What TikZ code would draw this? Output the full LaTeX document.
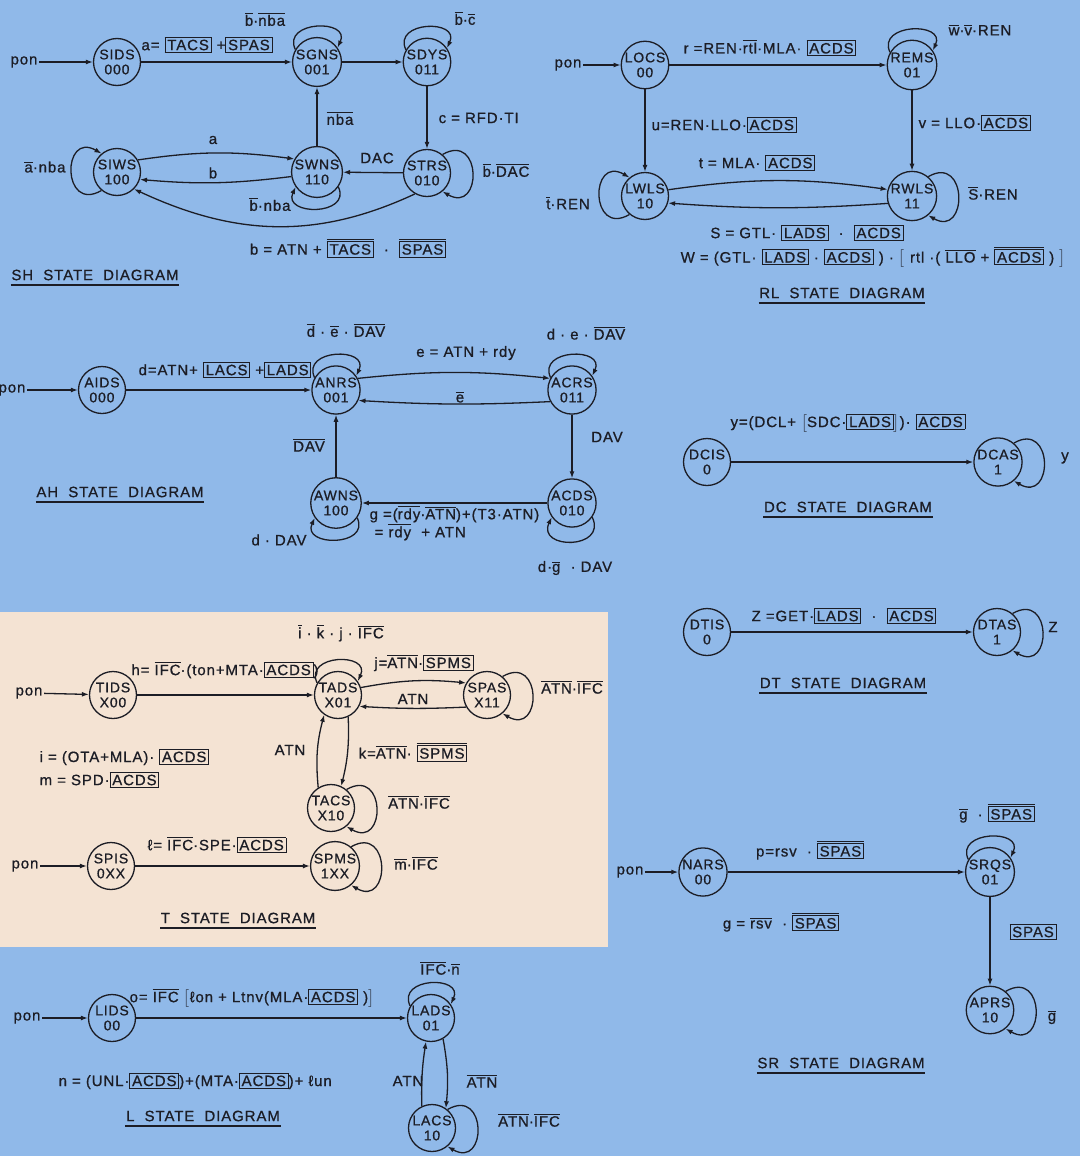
\documentclass[tikz,border=0pt]{standalone}
\usepackage{fontspec}
\setmainfont{Liberation Sans}[LetterSpace=6.0, FakeBold=0.8]
\usepackage{amsmath}
\usetikzlibrary{arrows.meta}
\definecolor{skyBg}{HTML}{90B9E9}
\definecolor{sandBg}{HTML}{F4E3D3}
\definecolor{inkDark}{HTML}{1C1D25}
\newcommand\ol[1]{\ensuremath{\overline{\mbox{#1}}}}
\newcommand\bx[1]{{\setlength\fboxsep{1.8pt}\setlength\fboxrule{0.9pt}\fbox{#1}}}
\newcommand\lblsize{\fontsize{15}{17}\selectfont}
\newcommand\stsize{\fontsize{14}{15}\selectfont}
\newcommand\ttlsize{\fontsize{15}{17}\selectfont}

\begin{document}
\begin{tikzpicture}[x=1pt, y=-1pt, line width=1.3pt, color=inkDark,
  state/.style={circle, draw, minimum size=47pt, inner sep=0pt, align=center, font=\stsize},
  lbl/.style={font=\lblsize, inner sep=1pt},
  ttl/.style={font=\ttlsize, inner xsep=0pt, inner ysep=4pt},
  uline/.style={line width=1.4pt},
  tr/.style={-{Latex[length=7pt,width=5pt]}}]
\useasboundingbox (0,0) rectangle (1080,1156);
\fill[skyBg] (0,0) rectangle (1080,1156);
\fill[sandBg] (0,612) rectangle (608,947);

\node[lbl] (ponsh) at (24,62) {pon};
\node[state] (sids) at (117,62) {SIDS\\000};
\node[state] (sgns) at (317,62) {SGNS\\001};
\node[state] (sdys) at (427,62) {SDYS\\011};
\node[state] (siws) at (117,172) {SIWS\\100};
\node[state] (swns) at (317,172) {SWNS\\110};
\node[state] (strs) at (427,173) {STRS\\010};
\draw[tr] (ponsh) -- (sids);
\draw[tr] (sids) -- (sgns);
\draw[tr] (sgns) -- (sdys);
\draw[tr] (sdys) -- (strs);
\draw[tr] (strs) -- (swns);
\draw[tr] (swns) -- (sgns);
\draw[tr] (siws.30) to[bend left=8] (swns.150);
\draw[tr] (swns.190) to[bend left=6] (siws.-18);
\draw[tr] (strs.240) to[out=205,in=-25] (siws.-45);
\draw[tr] (sgns.150) to[out=115,in=65,distance=32pt] (sgns.35);
\draw[tr] (sdys.150) to[out=115,in=65,distance=32pt] (sdys.35);
\draw[tr] (strs.50) to[out=30,in=-30,distance=46pt] (strs.-50);
\draw[tr] (swns.-35) to[out=-65,in=-115,distance=32pt] (swns.-145);
\draw[tr] (siws.230) to[out=210,in=150,distance=46pt] (siws.130);
\node[lbl] (sha) at (207,45) {a= \bx{TACS} +\bx{SPAS}};
\node[lbl] (shgl) at (265,19) {\ol{b}·\ol{nba}};
\node[lbl] (shdl) at (465,18) {\ol{b}·\ol{c}};
\node[lbl, anchor=west] (shc) at (437,118) {c = RFD·TI};
\node[lbl] (shtl) at (506,170) {\ol{b}·\ol{DAC}};
\node[lbl] (shdac) at (377,158) {DAC};
\node[lbl] (shnba) at (340,118) {\ol{nba}};
\node[lbl] (sha2) at (213,140) {a};
\node[lbl] (shb) at (213,173) {b};
\node[lbl] (shwl) at (270,204) {\ol{b}·nba};
\node[lbl] (shil) at (45,167) {\ol{a}·nba};
\node[lbl] (shb2) at (348,248) {b = ATN + \ol{\bx{TACS}} \ · \ \ol{\bx{SPAS}}};
\node[ttl] (tsh) at (95,275) {SH\ \ STATE\ \ DIAGRAM};
\draw[uline] (tsh.south west) -- (tsh.south east);

\node[lbl] (ponrl) at (568,65) {pon};
\node[state] (locs) at (645,65) {LOCS\\00};
\node[state] (rems) at (912,65) {REMS\\01};
\node[state] (lwls) at (645,196) {LWLS\\10};
\node[state] (rwls) at (912,196) {RWLS\\11};
\draw[tr] (ponrl) -- (locs);
\draw[tr] (locs) -- (rems);
\draw[tr] (locs) -- (lwls);
\draw[tr] (rems) -- (rwls);
\draw[tr] (lwls.15) to[bend left=8] (rwls.165);
\draw[tr] (rwls.197) to[bend left=4] (lwls.-17);
\draw[tr] (rems.150) to[out=115,in=65,distance=32pt] (rems.35);
\draw[tr] (lwls.230) to[out=210,in=150,distance=46pt] (lwls.130);
\draw[tr] (rwls.50) to[out=30,in=-30,distance=46pt] (rwls.-50);
\node[lbl] (rlr) at (770,48) {r =REN·\ol{rtl}·MLA· \bx{ACDS}};
\node[lbl] (rlml) at (980,30) {\ol{w}·\ol{v}·REN};
\node[lbl, anchor=west] (rlu) at (650,125) {u=REN·LLO·\bx{ACDS}};
\node[lbl, anchor=west] (rlv) at (917,123) {v = LLO·\bx{ACDS}};
\node[lbl] (rlt) at (757,163) {t = MLA· \bx{ACDS}};
\node[lbl] (rlll) at (568,203) {\ol{t}·REN};
\node[lbl] (rlrl) at (993,193) {\ol{S}·REN};
\node[lbl] (rls) at (807,233) {S = GTL· \bx{LADS} \ · \ \bx{ACDS}};
\node[lbl] (rlw) at (873,257) {W = (GTL· \bx{LADS} · \bx{ACDS} ) · $\bigl[$ rtl ·( \ol{LLO} + \ol{\bx{ACDS}} ) $\bigr]$};
\node[ttl] (trl) at (842,293) {RL\ \ STATE\ \ DIAGRAM};
\draw[uline] (trl.south west) -- (trl.south east);

\node[lbl] (ponah) at (12,390) {pon};
\node[state] (aids) at (102,390) {AIDS\\000};
\node[state] (anrs) at (336,390) {ANRS\\001};
\node[state] (acrs) at (572,390) {ACRS\\011};
\node[state] (awns) at (336,503) {AWNS\\100};
\node[state] (acds) at (572,503) {ACDS\\010};
\draw[tr] (ponah) -- (aids);
\draw[tr] (aids) -- (anrs);
\draw[tr] (anrs.28) to[bend left=6] (acrs.152);
\draw[tr] (acrs.208) to[bend left=3] (anrs.-25);
\draw[tr] (acrs) -- (acds);
\draw[tr] (acds) -- (awns);
\draw[tr] (awns) -- (anrs);
\draw[tr] (anrs.150) to[out=115,in=65,distance=32pt] (anrs.35);
\draw[tr] (acrs.150) to[out=115,in=65,distance=32pt] (acrs.35);
\draw[tr] (awns.-35) to[out=-65,in=-115,distance=32pt] (awns.-145);
\draw[tr] (acds.-35) to[out=-65,in=-115,distance=36pt] (acds.-145);
\node[lbl] (ahd) at (225,370) {d=ATN+ \bx{LACS} +\bx{LADS}};
\node[lbl] (ahnl) at (346,330) {\ol{d} · \ol{e} · \ol{DAV}};
\node[lbl] (ahe) at (466,353) {e = ATN + rdy};
\node[lbl] (ahne) at (460,397) {\ol{e}};
\node[lbl] (ahcl) at (586,333) {d · e · \ol{DAV}};
\node[lbl] (ahdav) at (607,437) {DAV};
\node[lbl] (ahndav) at (309,445) {\ol{DAV}};
\node[lbl, anchor=west] (ahg) at (368,514) {g =(\ol{rdy}·\ol{ATN})+(T3·ATN)};
\node[lbl, anchor=west] (ahg2) at (373,532) {= \ol{rdy} \ + ATN};
\node[lbl] (ahwl) at (279,540) {d · DAV};
\node[lbl] (ahdl) at (575,568) {d·\ol{g} \ · DAV};
\node[ttl] (tah) at (120,492) {AH\ \ STATE\ \ DIAGRAM};
\draw[uline] (tah.south west) -- (tah.south east);

\node[state] (dcis) at (707,462) {DCIS\\0};
\node[state] (dcas) at (998,462) {DCAS\\1};
\draw[tr] (dcis) -- (dcas);
\draw[tr] (dcas.50) to[out=30,in=-30,distance=46pt] (dcas.-50);
\node[lbl] (dcy) at (848,423) {y=(DCL+ $\bigl[$SDC·\bx{LADS}$\bigr]$)· \bx{ACDS}};
\node[lbl] (dcyl) at (1065,458) {y};
\node[ttl] (tdc) at (848,507) {DC\ \ STATE\ \ DIAGRAM};
\draw[uline] (tdc.south west) -- (tdc.south east);

\node[state] (dtis) at (707,632) {DTIS\\0};
\node[state] (dtas) at (997,632) {DTAS\\1};
\draw[tr] (dtis) -- (dtas);
\draw[tr] (dtas.50) to[out=30,in=-30,distance=46pt] (dtas.-50);
\node[lbl] (dtz) at (844,616) {Z =GET·\bx{LADS} \ · \ \bx{ACDS}};
\node[lbl] (dtzl) at (1053,627) {Z};
\node[ttl] (tdt) at (843,683) {DT\ \ STATE\ \ DIAGRAM};
\draw[uline] (tdt.south west) -- (tdt.south east);

\node[lbl] (ponta) at (29,693) {pon};
\node[state] (tids) at (113,695) {TIDS\\X00};
\node[state] (tads) at (338,695) {TADS\\X01};
\node[state] (spas) at (487,695) {SPAS\\X11};
\node[state] (tacs) at (331,808) {TACS\\X10};
\draw[tr] (ponta) -- (tids);
\draw[tr] (tids) -- (tads);
\draw[tr] (tads.18) to[bend left=8] (spas.150);
\draw[tr] (spas.210) to[bend left=3] (tads.-28);
\draw[tr] (tads.-65) to[bend left=8] (tacs.65);
\draw[tr] (tacs.122) to[bend left=10] (tads.235);
\draw[tr] (tads.150) to[out=115,in=65,distance=32pt] (tads.35);
\draw[tr] (spas.50) to[out=30,in=-30,distance=46pt] (spas.-50);
\draw[tr] (tacs.50) to[out=30,in=-30,distance=46pt] (tacs.-50);
\node[lbl] (th) at (225,670) {h= \ol{IFC}·(ton+MTA·\bx{ACDS})};
\node[lbl] (tal) at (341,633) {\ol{i} · \ol{k} · j · \ol{IFC}};
\node[lbl] (tj) at (424,663) {j=\ol{ATN}·\bx{SPMS}};
\node[lbl] (tatn) at (413,699) {ATN};
\node[lbl] (tsl) at (572,687) {\ol{ATN}·\ol{IFC}};
\node[lbl] (tatn2) at (290,750) {ATN};
\node[lbl] (tk) at (413,752) {k=\ol{ATN}· \ol{\bx{SPMS}}};
\node[lbl, anchor=west] (ti) at (38,757) {i = (OTA+MLA)· \bx{ACDS}};
\node[lbl, anchor=west] (tm) at (38,780) {m = SPD·\bx{ACDS}};
\node[lbl] (tcl) at (419,802) {\ol{ATN}·\ol{IFC}};

\node[lbl] (pontb) at (25,866) {pon};
\node[state] (spis) at (111,866) {SPIS\\0XX};
\node[state] (spms) at (335,866) {SPMS\\1XX};
\draw[tr] (pontb) -- (spis);
\draw[tr] (spis) -- (spms);
\draw[tr] (spms.50) to[out=30,in=-30,distance=46pt] (spms.-50);
\node[lbl] (tl) at (217,845) {ℓ= \ol{IFC}·SPE·\bx{ACDS}};
\node[lbl] (tml) at (416,863) {\ol{m}·\ol{IFC}};
\node[ttl] (tt) at (238,918) {T\ \ STATE\ \ DIAGRAM};
\draw[uline] (tt.south west) -- (tt.south east);

\node[lbl] (ponl) at (27,1018) {pon};
\node[state] (lids) at (112,1018) {LIDS\\00};
\node[state] (lads) at (431,1018) {LADS\\01};
\node[state] (lacs) at (432,1128) {LACS\\10};
\draw[tr] (ponl) -- (lids);
\draw[tr] (lids) -- (lads);
\draw[tr] (lads.-60) to[bend left=8] (lacs.55);
\draw[tr] (lacs.115) to[bend left=5] (lads.258);
\draw[tr] (lads.150) to[out=115,in=65,distance=32pt] (lads.35);
\draw[tr] (lacs.50) to[out=30,in=-30,distance=46pt] (lacs.-50);
\node[lbl, anchor=west] (lo) at (128,998) {o= \ol{IFC} $\bigl[$ℓon + Ltnv(MLA·\bx{ACDS} )$\bigr]$};
\node[lbl] (lal) at (440,968) {\ol{IFC}·\ol{n}};
\node[lbl, anchor=west] (ln) at (57,1081) {n = (UNL·\bx{ACDS})+(MTA·\bx{ACDS})+ ℓun};
\node[lbl] (latn) at (408,1081) {ATN};
\node[lbl] (lnatn) at (482,1081) {\ol{ATN}};
\node[lbl] (lcl) at (529,1120) {\ol{ATN}·\ol{IFC}};
\node[ttl] (tl2) at (203,1116) {L\ \ STATE\ \ DIAGRAM};
\draw[uline] (tl2.south west) -- (tl2.south east);

\node[lbl] (ponsr) at (630,872) {pon};
\node[state] (nars) at (703,872) {NARS\\00};
\node[state] (srqs) at (990,872) {SRQS\\01};
\node[state] (aprs) at (990,1010) {APRS\\10};
\draw[tr] (ponsr) -- (nars);
\draw[tr] (nars) -- (srqs);
\draw[tr] (srqs) -- (aprs);
\draw[tr] (srqs.150) to[out=115,in=65,distance=32pt] (srqs.35);
\draw[tr] (aprs.50) to[out=30,in=-30,distance=46pt] (aprs.-50);
\node[lbl] (srp) at (810,850) {p=rsv \ · \ol{\bx{SPAS}}};
\node[lbl] (srg) at (781,922) {g = \ol{rsv} \ · \ol{\bx{SPAS}}};
\node[lbl] (srql) at (997,813) {\ol{g} \ · \ol{\bx{SPAS}}};
\node[lbl] (srspas) at (1033,932) {\bx{SPAS}};
\node[lbl] (sral) at (1052,1017) {\ol{g}};
\node[ttl] (tsr) at (841,1063) {SR\ \ STATE\ \ DIAGRAM};
\draw[uline] (tsr.south west) -- (tsr.south east);
\end{tikzpicture}
\end{document}
